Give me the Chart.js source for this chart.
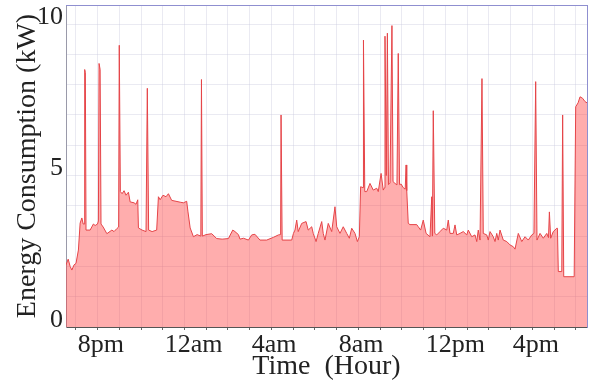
<!DOCTYPE html>
<html><head><meta charset="utf-8">
<script src="https://cdn.jsdelivr.net/npm/chart.js@4"></script>
<style>html,body{margin:0;padding:0;background:#fff}#wrap{width:591px;height:383px}</style>
</head><body><div id="wrap"><canvas id="c" width="591" height="383"></canvas></div>
<script>
// time in hours (20 = 8pm, 24 = 12am, 32 = 8am of the next day ...)
const hours = [
19.55,19.65,19.74,19.82,19.92,20.01,20.12,20.20,20.28,20.34,20.38,20.41,20.44,20.47,20.66,20.81,20.89,21.00,
21.04,21.07,21.12,21.16,21.26,21.43,21.66,21.76,21.89,21.97,22.00,22.05,22.13,22.22,22.31,22.42,22.50,22.68,
22.77,22.85,22.88,23.05,23.23,23.29,23.35,23.51,23.72,23.80,23.88,24.01,24.15,24.26,24.41,24.61,24.80,24.95,
25.10,25.16,25.26,25.41,25.58,25.75,25.78,25.82,25.99,26.25,26.48,26.73,27.02,27.22,27.32,27.48,27.55,27.71,
27.94,28.09,28.24,28.47,28.78,29.09,29.32,29.42,29.44,29.49,29.93,30.01,30.08,30.16,30.23,30.39,30.59,30.69,
30.85,30.92,31.05,31.15,31.31,31.38,31.46,31.61,31.77,31.92,32.00,32.15,32.30,32.46,32.58,32.69,32.84,32.95,
33.04,33.10,33.21,33.23,33.29,33.38,33.53,33.68,33.84,33.91,34.04,34.14,34.20,34.22,34.28,34.33,34.38,34.45,
34.54,34.59,34.68,34.77,34.83,34.89,34.96,35.06,35.15,35.19,35.22,35.29,35.37,35.68,35.75,35.86,35.98,36.11,
36.29,36.37,36.40,36.44,36.51,36.60,36.75,36.90,37.06,37.13,37.21,37.36,37.44,37.52,37.67,37.82,37.98,38.05,
38.21,38.36,38.44,38.51,38.59,38.68,38.74,38.90,38.97,39.05,39.20,39.28,39.36,39.43,39.51,39.66,39.82,39.97,
40.12,40.20,40.35,40.51,40.66,40.81,40.97,41.07,41.15,41.21,41.35,41.50,41.66,41.74,41.78,41.84,41.96,42.12,
42.15,42.19,42.35,42.39,42.44,42.92,42.99,43.10,43.19,43.31,43.42,43.51
];
// energy consumption in kW
const power = [
2.05,2.24,2.00,1.88,2.05,2.10,2.54,3.43,3.60,3.40,3.40,8.50,8.40,3.20,3.20,3.40,3.35,3.40,
3.50,8.70,8.50,3.40,3.30,3.08,3.20,3.15,3.25,3.30,9.30,4.47,4.40,4.50,4.35,4.45,4.13,4.10,
4.05,4.20,3.27,3.20,3.15,7.88,3.20,3.15,3.20,4.30,4.20,4.35,4.30,4.40,4.18,4.15,4.12,4.10,
4.15,3.80,3.27,2.98,3.05,3.00,8.17,3.00,3.05,3.08,2.92,2.90,2.92,3.20,3.15,3.05,2.90,2.93,
2.87,3.04,3.06,2.87,2.87,2.96,3.04,3.05,7.00,2.87,2.87,3.09,3.20,3.53,3.15,3.42,3.48,3.20,
3.31,3.09,2.82,3.09,3.48,3.09,2.87,3.42,3.15,3.97,3.31,3.09,3.31,3.09,2.93,3.26,3.09,2.82,
2.98,4.63,4.60,9.47,4.47,4.47,4.74,4.52,4.58,4.47,5.07,4.52,4.60,9.60,5.00,9.70,4.70,4.75,
9.95,4.80,4.74,4.69,9.03,4.70,4.72,4.60,4.55,5.35,4.50,3.42,3.38,3.38,3.31,3.20,3.53,3.09,
2.98,4.30,3.00,7.14,3.09,3.04,3.15,3.26,3.20,3.53,3.09,3.09,3.37,3.04,3.09,3.15,3.04,3.20,
2.98,3.04,2.82,3.20,2.87,8.20,3.09,3.04,2.87,3.15,2.98,2.82,3.09,2.87,3.20,2.87,2.82,2.71,
2.65,2.57,3.09,2.82,2.98,2.87,3.04,3.09,8.10,2.87,3.09,2.93,3.09,2.95,3.80,2.93,3.15,3.26,
3.26,1.83,1.83,7.00,1.66,1.66,7.27,7.40,7.60,7.55,7.44,7.40
];
const hourTicks = [20,21,22,23,24,25,26,27,28,29,30,31,32,33,34,35,36,37,38,39,40,41,42,43];
const xLabelHours = [20,24,28,32,36,40];
const xLabels = ['8pm','12am','4am','8am','12pm','4pm'];
const yGridValues = [0,1,2,3,4,5,6,7,8,9,10];
const yLabelValues = [0,5,10];
const xTitle = 'Time  (Hour)';
const yTitle = 'Energy Consumption (kW)';

const serif = 'Liberation Serif';
const gridColor = 'rgba(200,200,222,0.38)';
const noPad = s => { s.paddingTop = 0; s.paddingBottom = 0; s.paddingLeft = 0; s.paddingRight = 0; };

new Chart(document.getElementById('c'), {
  type: 'line',
  data: {
    datasets: [{
      data: hours.map((h, i) => ({x: h, y: power[i]})),
      borderColor: '#e54448',
      borderWidth: 1,
      backgroundColor: 'rgba(255,60,60,0.42)',
      fill: 'origin',
      pointRadius: 0,
      tension: 0
    }]
  },
  options: {
    responsive: false,
    animation: false,
    devicePixelRatio: 1,
    layout: {padding: {top: 5, right: 4, left: 0, bottom: 0}},
    plugins: {legend: {display: false}, tooltip: {enabled: false}},
    scales: {
      x: {
        type: 'linear',
        min: 19.55, max: 43.51,
        afterBuildTicks: s => { s.ticks = hourTicks.map(v => ({value: v})); },
        afterFit: s => { s.height = 56; noPad(s); },
        ticks: {
          autoSkip: false, maxRotation: 0, align: 'start', labelOffset: 2, padding: 0,
          color: '#222', font: {family: serif, size: 26},
          callback: v => { const i = xLabelHours.indexOf(v); return i >= 0 ? xLabels[i] : ''; }
        },
        grid: {color: gridColor, tickColor: '#666', tickLength: 3},
        border: {color: '#555'},
        title: {display: true, text: xTitle, color: '#222', font: {family: serif, size: 28}, padding: {top: 0, bottom: 0}}
      },
      y: {
        min: 0, max: 10.63,
        afterBuildTicks: s => { s.ticks = yGridValues.map(v => ({value: v})); },
        afterFit: s => { s.width = 66; noPad(s); },
        ticks: {
          autoSkip: false, padding: 3, labelOffset: -7,
          color: '#222', font: {family: serif, size: 26},
          callback: v => yLabelValues.includes(v) ? String(v) : ''
        },
        grid: {color: gridColor, drawTicks: false},
        border: {color: '#9a9aaa'},
        title: {display: true, text: yTitle, color: '#222', font: {family: serif, size: 28}, padding: {top: 11, bottom: 0}}
      },
      x2: {
        position: 'top', min: 0, max: 1,
        afterFit: s => { s.height = 0; noPad(s); },
        ticks: {display: false},
        grid: {display: false, drawTicks: false},
        border: {display: true, color: '#8f8fd0', dash: [1, 5]}
      },
      y2: {
        position: 'right', min: 0, max: 1,
        afterFit: s => { s.width = 0; noPad(s); },
        ticks: {display: false},
        grid: {display: false, drawTicks: false},
        border: {display: true, color: '#8f8fd0', dash: [1, 5]}
      }
    }
  }
});
</script>
</body></html>
